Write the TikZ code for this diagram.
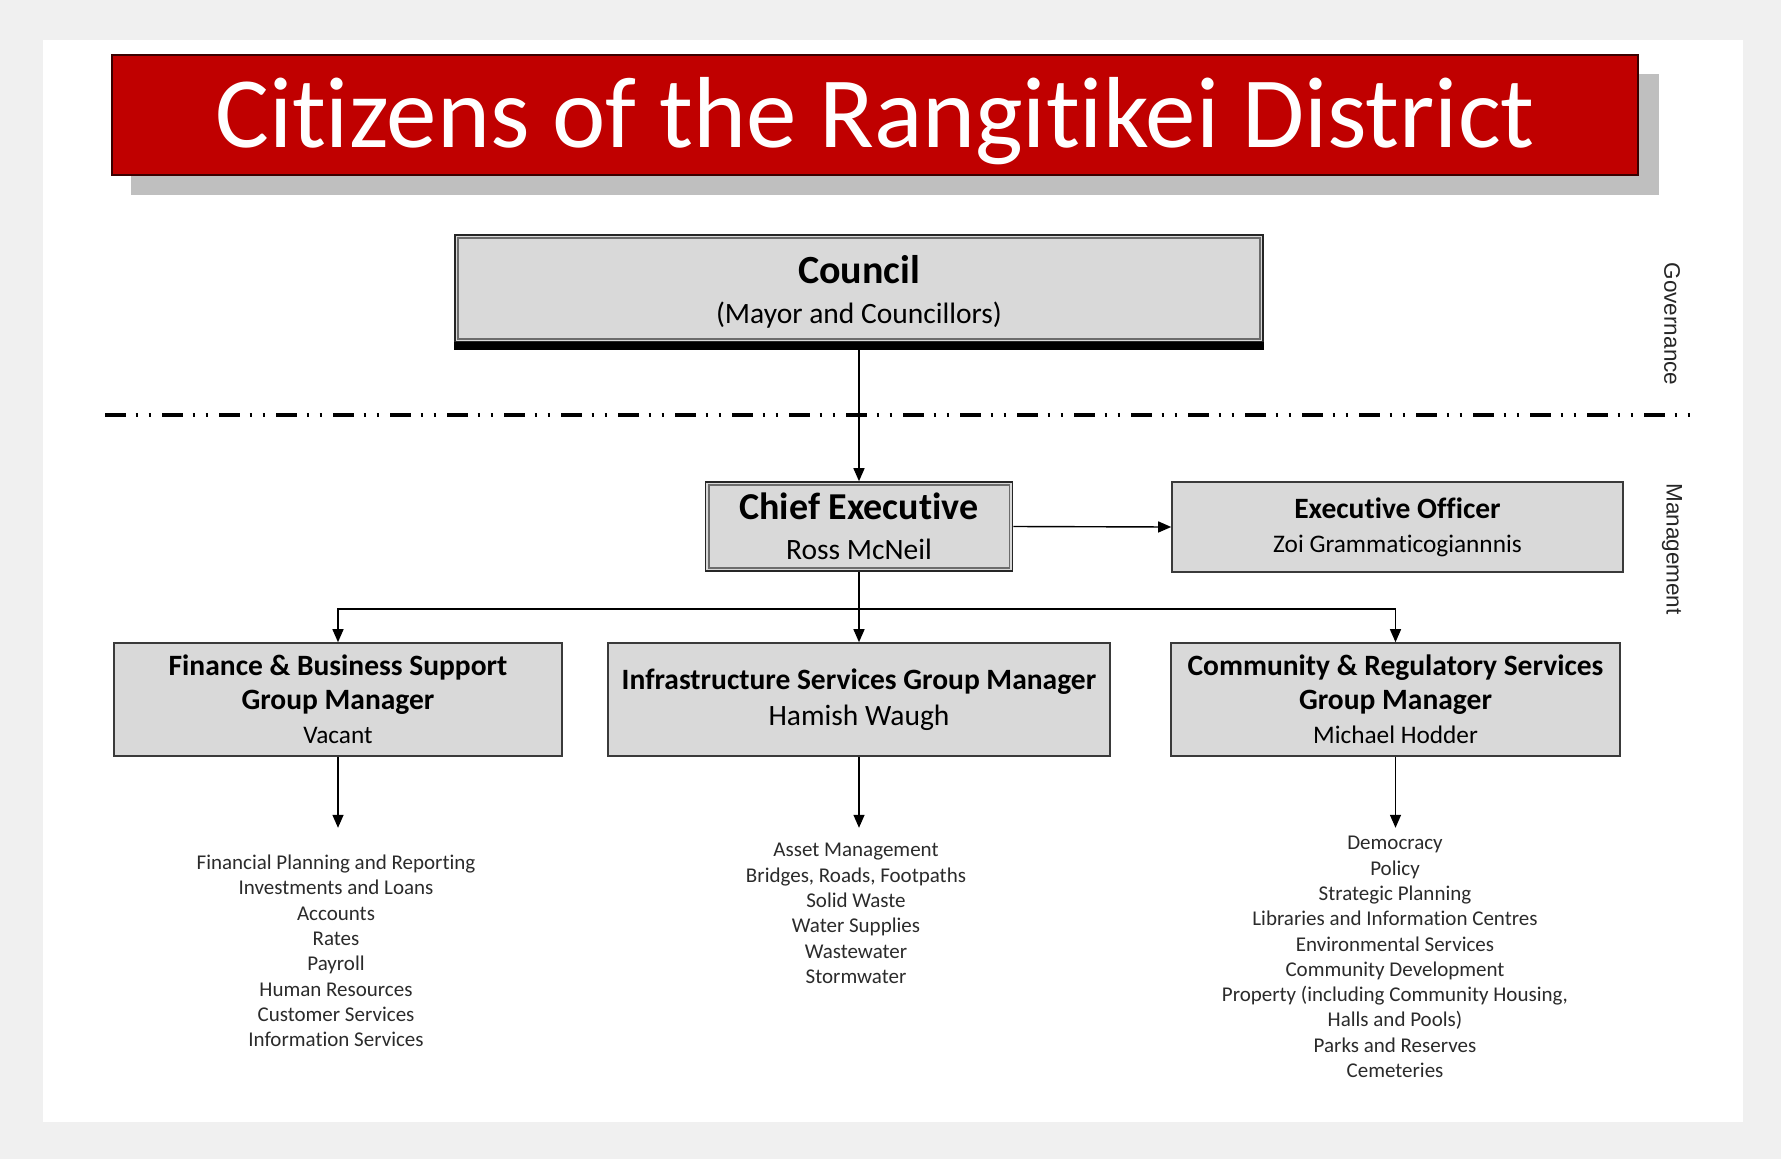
\documentclass[tikz,border=0pt]{standalone}
\usepackage{fontspec}
\setmainfont{Carlito}[Ligatures={CommonOff,ContextualOff}]
\newfontfamily\sidefont{Liberation Sans}
\usepackage{xcolor}
\usetikzlibrary{positioning,calc,arrows.meta}

\definecolor{titlered}{HTML}{C00000}
\definecolor{unitgrey}{HTML}{D9D9D9}
\definecolor{shadowgrey}{HTML}{BFBFBF}
\definecolor{pagegrey}{HTML}{F0F0F0}
\definecolor{framegrey}{HTML}{3A3A3A}
\definecolor{listgrey}{HTML}{2B2B2B}

\tikzset{
  unit/.style={draw=framegrey, fill=unitgrey, line width=1.6pt, align=center, inner sep=0pt},
  topunit/.style={unit, draw=black!85},
  innerframe/.style={draw=gray!85!black, line width=1.6pt},
  titlebox/.style={draw=black!70!titlered, fill=titlered, line width=1.5pt, text=white, inner sep=0pt,
    font=\fontsize{101}{101}\selectfont, text height=65pt, text depth=0pt},
  duties/.style={align=center, text=listgrey, inner sep=0pt, font=\fontsize{21}{25.3}\selectfont},
  link/.style={line width=1.4pt, -{Triangle[length=13pt,width=11pt]}},
  side/.style={rotate=-90, font=\sidefont\fontsize{22.5}{22.5}\selectfont, text=black!85}
}

\begin{document}
\begin{tikzpicture}[x=1pt,y=-1pt]
  \fill[pagegrey] (0,0) rectangle (1781,1159);
  \fill[white] (43,40) rectangle (1743,1122);

  % banner
  \fill[shadowgrey] (131,74) rectangle (1659,195);
  \node[titlebox, minimum width=1526pt, minimum height=120pt] (title) at (875,115)
    {Citizens of the Rangitikei District};

  % governance
  \node[topunit, minimum width=808pt, minimum height=107pt, font=\fontsize{29.5}{40}\selectfont] (council) at (859,288.5)
    {{\fontsize{40}{40}\selectfont\bfseries\rule{0pt}{35pt}Council}\\(Mayor and Councillors)};
  \draw[innerframe] ([xshift=4pt,yshift=-4pt]council.north west) rectangle ([xshift=-4pt,yshift=4pt]council.south east);
  \fill[black] ([yshift=1pt]council.south west) rectangle ([yshift=-7pt]council.south east);

  \draw[line width=3.5pt, dash pattern=on 21pt off 9.5pt on 2.5pt off 10.5pt on 2.5pt off 11pt] (105,415) -- (1691,415);

  % management
  \node[topunit, minimum width=307pt, minimum height=89pt, font=\fontsize{29.5}{40}\selectfont] (chief) at (859,526.5)
    {{\fontsize{38}{38}\selectfont\bfseries Chief Executive}\\Ross McNeil};
  \draw[innerframe] ([xshift=4pt,yshift=-4pt]chief.north west) rectangle ([xshift=-4pt,yshift=4pt]chief.south east);
  \node[unit, minimum width=451pt, minimum height=90pt, font=\fontsize{25.3}{34}\selectfont] (officer) at (1397.5,527)
    {{\fontsize{29.5}{30}\selectfont\bfseries Executive Officer}\\Zoi Grammaticogiannnis};

  \node[unit, minimum width=448pt, minimum height=113pt, font=\fontsize{29.5}{34}\selectfont] (finance) at (338,699.5)
    {{\bfseries Finance \& Business Support}\\{\bfseries Group Manager}\\{\fontsize{25.3}{30}\selectfont Vacant}};
  \node[unit, minimum width=502pt, minimum height=113pt, font=\fontsize{29.5}{36}\selectfont] (infra) at (859,699.5)
    {{\bfseries Infrastructure Services Group Manager}\\Hamish Waugh};
  \node[unit, minimum width=449pt, minimum height=113pt, font=\fontsize{29.5}{34}\selectfont] (community) at (1395.5,699.5)
    {{\bfseries Community \& Regulatory Services}\\{\bfseries Group Manager}\\{\fontsize{25.3}{30}\selectfont Michael Hodder}};

  \node[duties] (finlist) at (336,951)
    {Financial Planning and Reporting\\Investments and Loans\\Accounts\\Rates\\Payroll\\Human Resources\\Customer Services\\Information Services};
  \node[duties] (infralist) at (856,913.5)
    {Asset Management\\Bridges, Roads, Footpaths\\Solid Waste\\Water Supplies\\Wastewater\\Stormwater};
  \node[duties] (commlist) at (1395,957)
    {Democracy\\Policy\\Strategic Planning\\Libraries and Information Centres\\Environmental Services\\Community Development\\Property (including Community Housing,\\Halls and Pools)\\Parks and Reserves\\Cemeteries};

  \node[side] (gov) at (1672,324) {Governance};
  \node[side] (mgmt) at (1672,549) {Management};

  % reporting lines
  \coordinate (bus) at ($(chief.south)+(0,37)$);
  \draw[link] (council.south) -- (chief.north);
  \draw[link] (chief.east) -- (officer.west);
  \draw[link] (chief.south) -- (infra.north);
  \draw[link] (bus) -| (finance.north);
  \draw[link] (bus) -| (community.north);
  \foreach \u in {finance,infra,community}{
    \coordinate (\u-end) at ($(\u.south)+(0,71)$);
    \draw[link] (\u.south) -- (\u-end);
  }
\end{tikzpicture}
\end{document}
